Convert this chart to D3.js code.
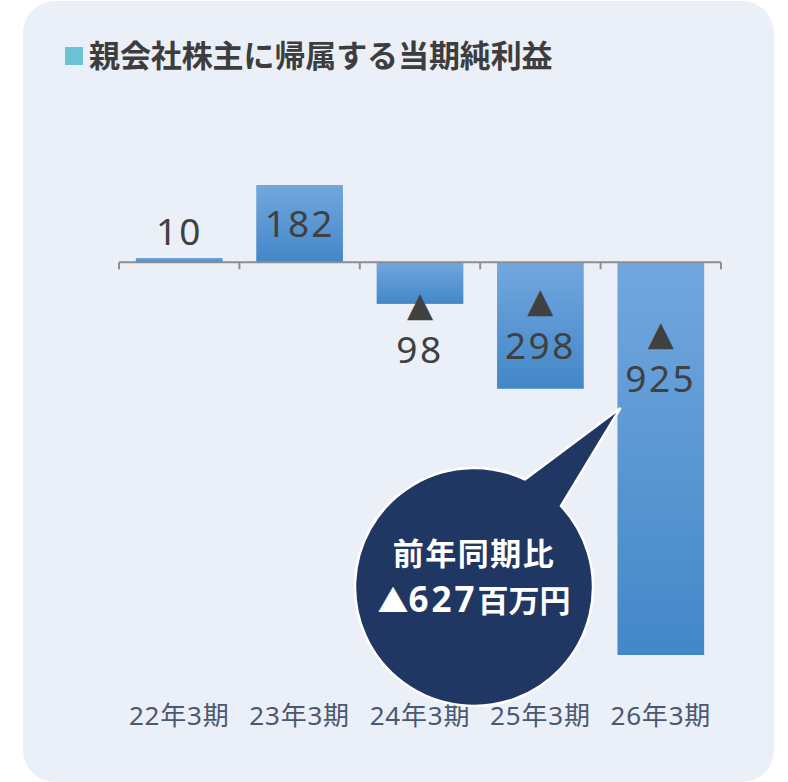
<!DOCTYPE html>
<html>
<head>
<meta charset="utf-8">
<script src="https://cdn.jsdelivr.net/npm/d3@7"></script>
<style>
  body { margin: 0; background: #ffffff; }
  svg { display: block; }
</style>
</head>
<body>
<div id="chart"></div>
<script>
// data
const title = "親会社株主に帰属する当期純利益"
const categories = ["22年3期", "23年3期", "24年3期", "25年3期", "26年3期"]
const values = [10, 182, -98, -298, -925]
const calloutHead = "前年同期比"
const calloutDiff = 627
const calloutUnit = "百万円"

const width = 788
const height = 782

// label baselines (px) – hand placed like the original
const labelBaseline = [245, 237, 363, 359, 392]

const svg = d3.select("#chart")
    .append("svg")
    .attr("width", width)
    .attr("height", height)

const defs = svg.append("defs")
const grad = defs.append("linearGradient")
    .attr("id", "barGrad")
    .attr("x1", 0).attr("y1", 0).attr("x2", 0).attr("y2", 1)
grad.append("stop").attr("offset", "0%").attr("stop-color", "#72a7de")
grad.append("stop").attr("offset", "100%").attr("stop-color", "#4387c8")

// panel
svg.append("rect")
    .attr("x", 23).attr("y", 1)
    .attr("width", 751).attr("height", 781)
    .attr("rx", 32)
    .attr("fill", "#eaeff8")

// title
svg.append("rect")
    .attr("x", 65).attr("y", 47)
    .attr("width", 18).attr("height", 18)
    .attr("fill", "#6cc3d5")

svg.append("text")
    .attr("x", 89).attr("y", 67)
    .attr("font-family", "'Noto Sans CJK JP'")
    .attr("font-weight", "bold")
    .attr("font-size", 31)
    .attr("letter-spacing", -0.1)
    .attr("fill", "#3d3d3d")
    .text(title)

const x = d3.scaleBand()
    .domain(categories)
    .range([119, 721])
    .paddingInner(0.28)
    .paddingOuter(0.14)

const y = d3.scaleLinear()
    .domain([-925, 182])
    .range([655, 185])

// bars
svg.append("g")
    .selectAll("rect")
    .data(values)
    .enter().append("rect")
    .attr("x", (d, i) => x(categories[i]))
    .attr("width", x.bandwidth())
    .attr("y", d => y(Math.max(0, d)))
    .attr("height", d => Math.abs(y(d) - y(0)))
    .attr("fill", "url(#barGrad)")

// axis
const step = x.step()
const axis = svg.append("g").attr("stroke", "#8e8e8e").attr("stroke-width", 2)
axis.append("line")
    .attr("x1", 119).attr("x2", 721)
    .attr("y1", y(0)).attr("y2", y(0))
const tickX = categories.map(c => x(c) - step * 0.14).concat([721])
axis.selectAll("line.tick")
    .data(tickX)
    .enter().append("line")
    .attr("class", "tick")
    .attr("x1", d => d).attr("x2", d => d)
    .attr("y1", y(0)).attr("y2", y(0) + 7)

// value labels (negatives shown as ▲ over the number)
const labels = svg.append("g")
    .attr("font-family", "'Noto Sans', 'Noto Sans CJK JP'")
    .attr("fill", "#404040")
    .attr("text-anchor", "middle")

values.forEach((v, i) => {
    const cx = x(categories[i]) + x.bandwidth() / 2
    const b = labelBaseline[i]
    const t = labels.append("text")
        .attr("x", cx)
        .attr("y", v < 0 ? b - 47 : b)
    if (v < 0) {
        t.append("tspan")
            .attr("x", cx)
            .attr("font-family", "'DejaVu Sans'")
            .attr("font-size", 34)
            .text("▲")
        t.append("tspan")
            .attr("x", cx)
            .attr("dy", 47)
            .attr("font-size", 37)
            .attr("letter-spacing", 2.5)
            .text(Math.abs(v))
    } else {
        t.attr("font-size", 37)
            .attr("letter-spacing", 2)
            .text(v)
    }
})

// category labels
svg.append("g")
    .selectAll("text")
    .data(categories)
    .enter().append("text")
    .attr("x", d => x(d) + x.bandwidth() / 2)
    .attr("y", 725)
    .attr("text-anchor", "middle")
    .attr("font-family", "'Noto Sans', 'Noto Sans CJK JP'")
    .attr("font-size", 26)
    .attr("letter-spacing", 0.8)
    .attr("fill", "#4a5870")
    .text(d => d)

// callout bubble
const cx0 = 474, cy0 = 587, r = 119
const a1 = -64.7 * Math.PI / 180, a2 = -43 * Math.PI / 180
const tip = [x(categories[4]) + 3, 408]
const pA = [cx0 + r * Math.cos(a1), cy0 + r * Math.sin(a1)]
const pB = [cx0 + r * Math.cos(a2), cy0 + r * Math.sin(a2)]
svg.append("path")
    .attr("d", `M${pA[0]},${pA[1]} L${tip[0]},${tip[1]} L${pB[0]},${pB[1]} A${r},${r} 0 1 1 ${pA[0]},${pA[1]} Z`)
    .attr("fill", "#1f3762")
    .attr("stroke", "#ffffff")
    .attr("stroke-width", 2.5)

const ct = svg.append("text")
    .attr("x", cx0)
    .attr("y", 565)
    .attr("text-anchor", "middle")
    .attr("font-family", "'Noto Sans CJK JP'")
    .attr("font-weight", "bold")
    .attr("font-size", 31)
    .attr("fill", "#ffffff")
ct.append("tspan").attr("x", cx0).attr("letter-spacing", 1.5).text(calloutHead)
ct.append("tspan").attr("x", cx0).attr("dy", 47).text("▲")
ct.append("tspan")
    .attr("font-family", "'Noto Sans'")
    .attr("font-size", 35)
    .attr("letter-spacing", 3)
    .text(calloutDiff)
ct.append("tspan").text(calloutUnit)
</script>
</body>
</html>
